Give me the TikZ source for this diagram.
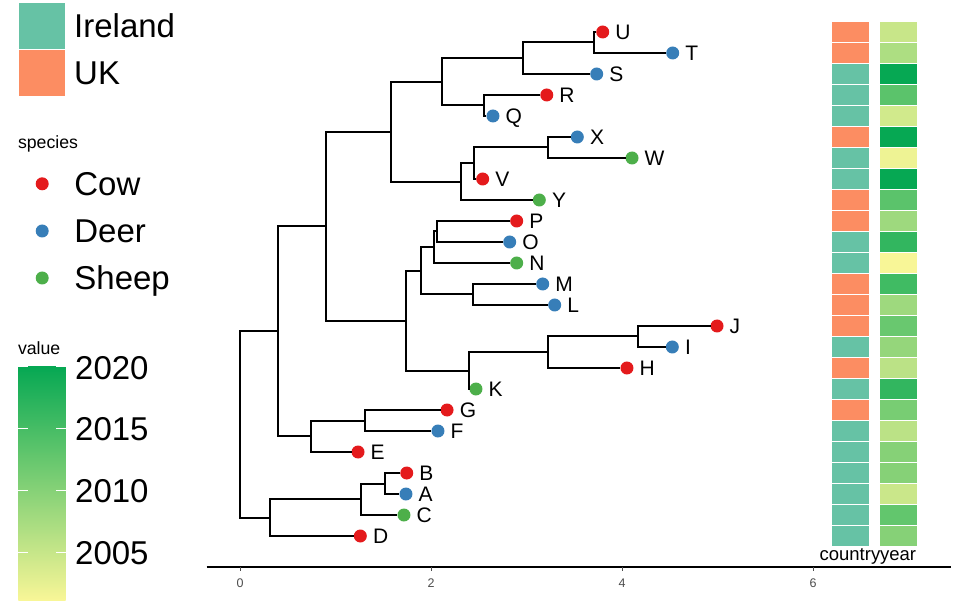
\documentclass[tikz,border=0pt]{standalone}
\usepackage{fontspec}
\setmainfont{Liberation Sans}
\usetikzlibrary{positioning}
\definecolor{cowred}{HTML}{E41A1C}
\definecolor{deerblue}{HTML}{377EB8}
\definecolor{sheepgreen}{HTML}{4DAF4A}
\definecolor{ireland}{HTML}{66C2A5}
\definecolor{uk}{HTML}{FC8D62}
\definecolor{yrlo}{HTML}{F8F697}
\definecolor{yrhi}{HTML}{06A853}
\definecolor{axisgray}{HTML}{4D4D4D}
\tikzset{
  treeline/.style={black, line width=2pt},
  tipdot/.style={circle, inner sep=0pt, outer sep=0pt, minimum size=13pt},
  cow/.style={tipdot, fill=cowred},
  deer/.style={tipdot, fill=deerblue},
  sheep/.style={tipdot, fill=sheepgreen},
  tiplab/.style={inner sep=0pt, font=\fontsize{21}{25}\selectfont, text height=15pt, text depth=0pt},
  cell/.style={draw=white, line width=0.6pt, inner sep=0pt, outer sep=0pt, minimum width=38pt, minimum height=21pt},
  yearcell/.style={cell, fill=yrhi!#1!yrlo},
  legkey/.style={draw=white, line width=0.6pt, inner sep=0pt, minimum width=47pt, minimum height=46.7pt},
  leglab/.style={inner sep=0pt, anchor=west, font=\fontsize{33}{38}\selectfont, text height=23.6pt, text depth=0pt},
  legtitle/.style={inner sep=0pt, anchor=base west, font=\fontsize{17.7}{21}\selectfont},
  cbtick/.style={white, line width=0.6pt},
  coltitle/.style={inner sep=0pt, anchor=base, font=\fontsize{18.5}{22}\selectfont},
  ticklab/.style={inner sep=0pt, text=axisgray, font=\fontsize{12.5}{15}\selectfont},
  axistick/.style={axisgray, line width=0.9pt}
}
\begin{document}
\begin{tikzpicture}[x=1pt, y=1pt]
\useasboundingbox (0,0) rectangle (960,600);
% country legend
\node[legkey, fill=ireland] (kIreland) at (41.7,574.5) {};
\node[legkey, fill=uk] (kUK) at (41.7,527.5) {};
\node[leglab, right=8.5pt of kIreland] (lIreland) {Ireland};
\node[leglab, right=8.5pt of kUK] (lUK) {UK};
% species legend
\node[legtitle] (tSpecies) at (17.8,451) {species};
\node[cow] (kCow) at (42.2,416.2) {};
\node[deer] (kDeer) at (42.2,369) {};
\node[sheep] (kSheep) at (42.2,322) {};
\node[leglab, right=25.5pt of kCow] (lCow) {Cow};
\node[leglab, right=25.5pt of kDeer] (lDeer) {Deer};
\node[leglab, right=25.5pt of kSheep] (lSheep) {Sheep};
% year colour bar
\node[legtitle] (tValue) at (17.8,245) {value};
\shade[bottom color=yrlo, top color=yrhi] (18.3,0) rectangle (65.7,233.3);
\draw[cbtick] (18.3,233.3) -- ++(9.3,0) (65.7,233.3) -- ++(-9.3,0);
\draw[cbtick] (18.3,172) -- ++(9.3,0) (65.7,172) -- ++(-9.3,0);
\draw[cbtick] (18.3,109.7) -- ++(9.3,0) (65.7,109.7) -- ++(-9.3,0);
\draw[cbtick] (18.3,47.7) -- ++(9.3,0) (65.7,47.7) -- ++(-9.3,0);
\node[leglab] (l2020) at (75,232.3) {2020};
\node[leglab] (l2015) at (75,171.2) {2015};
\node[leglab] (l2010) at (75,109) {2010};
\node[leglab] (l2005) at (75,47) {2005};

\begin{scope}[shift={(240pt,43pt)}, x=95.5pt, y=21pt]
% tips
\node[cow] (U) at (3.798,25) {};
\node[deer] (T) at (4.531,24) {};
\node[deer] (S) at (3.735,23) {};
\node[cow] (R) at (3.212,22) {};
\node[deer] (Q) at (2.649,21) {};
\node[deer] (X) at (3.532,20) {};
\node[sheep] (W) at (4.105,19) {};
\node[cow] (V) at (2.541,18) {};
\node[sheep] (Y) at (3.134,17) {};
\node[cow] (P) at (2.897,16) {};
\node[deer] (O) at (2.824,15) {};
\node[sheep] (N) at (2.897,14) {};
\node[deer] (M) at (3.170,13) {};
\node[deer] (L) at (3.295,12) {};
\node[cow] (J) at (4.995,11) {};
\node[deer] (I) at (4.527,10) {};
\node[cow] (H) at (4.052,9) {};
\node[sheep] (K) at (2.471,8) {};
\node[cow] (G) at (2.168,7) {};
\node[deer] (F) at (2.073,6) {};
\node[cow] (E) at (1.236,5) {};
\node[cow] (B) at (1.746,4) {};
\node[deer] (A) at (1.738,3) {};
\node[sheep] (C) at (1.717,2) {};
\node[cow] (D) at (1.260,1) {};
\node[tiplab, right=6pt of U] (lU) {U};
\node[tiplab, right=6pt of T] (lT) {T};
\node[tiplab, right=6pt of S] (lS) {S};
\node[tiplab, right=6pt of R] (lR) {R};
\node[tiplab, right=6pt of Q] (lQ) {Q};
\node[tiplab, right=6pt of X] (lX) {X};
\node[tiplab, right=6pt of W] (lW) {W};
\node[tiplab, right=6pt of V] (lV) {V};
\node[tiplab, right=6pt of Y] (lY) {Y};
\node[tiplab, right=6pt of P] (lP) {P};
\node[tiplab, right=6pt of O] (lO) {O};
\node[tiplab, right=6pt of N] (lN) {N};
\node[tiplab, right=6pt of M] (lM) {M};
\node[tiplab, right=6pt of L] (lL) {L};
\node[tiplab, right=6pt of J] (lJ) {J};
\node[tiplab, right=6pt of I] (lI) {I};
\node[tiplab, right=6pt of H] (lH) {H};
\node[tiplab, right=6pt of K] (lK) {K};
\node[tiplab, right=6pt of G] (lG) {G};
\node[tiplab, right=6pt of F] (lF) {F};
\node[tiplab, right=6pt of E] (lE) {E};
\node[tiplab, right=6pt of B] (lB) {B};
\node[tiplab, right=6pt of A] (lA) {A};
\node[tiplab, right=6pt of C] (lC) {C};
\node[tiplab, right=6pt of D] (lD) {D};
% inner nodes
\coordinate (nUT) at (3.707,24.5);
\coordinate (nUTS) at (2.963,23.75);
\coordinate (nRQ) at (2.560,21.5);
\coordinate (nUQ) at (2.112,22.625);
\coordinate (nXW) at (3.228,19.5);
\coordinate (nXV) at (2.453,18.75);
\coordinate (nXY) at (2.314,17.875);
\coordinate (nUY) at (1.578,20.25);
\coordinate (nPO) at (2.060,15.5);
\coordinate (nPN) at (2.035,14.75);
\coordinate (nML) at (2.437,12.5);
\coordinate (nPL) at (1.892,13.625);
\coordinate (nJI) at (4.171,10.5);
\coordinate (nJH) at (3.222,9.75);
\coordinate (nJK) at (2.401,8.875);
\coordinate (nPK) at (1.741,11.25);
\coordinate (nUK) at (0.901,15.75);
\coordinate (nFG) at (1.306,6.5);
\coordinate (nGE) at (0.743,5.75);
\coordinate (nUE) at (0.401,10.75);
\coordinate (nBA) at (1.518,3.5);
\coordinate (nBC) at (1.264,2.75);
\coordinate (nBD) at (0.314,1.875);
\coordinate (root) at (0,6.3125);
% branches
\draw[treeline] (nUE) -| (root) |- (nBD);
\draw[treeline] (nUK) -| (nUE) |- (nGE);
\draw[treeline] (nUY) -| (nUK) |- (nPK);
\draw[treeline] (nUQ) -| (nUY) |- (nXY);
\draw[treeline] (nUTS) -| (nUQ) |- (nRQ);
\draw[treeline] (nUT) -| (nUTS) |- (S);
\draw[treeline] (U) -| (nUT) |- (T);
\draw[treeline] (R) -| (nRQ) |- (Q);
\draw[treeline] (nXV) -| (nXY) |- (Y);
\draw[treeline] (nXW) -| (nXV) |- (V);
\draw[treeline] (X) -| (nXW) |- (W);
\draw[treeline] (nPL) -| (nPK) |- (nJK);
\draw[treeline] (nPN) -| (nPL) |- (nML);
\draw[treeline] (nPO) -| (nPN) |- (N);
\draw[treeline] (P) -| (nPO) |- (O);
\draw[treeline] (M) -| (nML) |- (L);
\draw[treeline] (nJH) -| (nJK) |- (K);
\draw[treeline] (nJI) -| (nJH) |- (H);
\draw[treeline] (J) -| (nJI) |- (I);
\draw[treeline] (nFG) -| (nGE) |- (E);
\draw[treeline] (G) -| (nFG) |- (F);
\draw[treeline] (nBC) -| (nBD) |- (D);
\draw[treeline] (nBA) -| (nBC) |- (C);
\draw[treeline] (B) -| (nBA) |- (A);
% heatmap
\node[cell, fill=uk] (cU) at (6.387,25) {}; \node[yearcell=20, right=10pt of cU] (yU) {};
\node[cell, fill=uk] (cT) at (6.387,24) {}; \node[yearcell=31, right=10pt of cT] (yT) {};
\node[cell, fill=ireland] (cS) at (6.387,23) {}; \node[yearcell=100, right=10pt of cS] (yS) {};
\node[cell, fill=ireland] (cR) at (6.387,22) {}; \node[yearcell=65, right=10pt of cR] (yR) {};
\node[cell, fill=ireland] (cQ) at (6.387,21) {}; \node[yearcell=16, right=10pt of cQ] (yQ) {};
\node[cell, fill=uk] (cX) at (6.387,20) {}; \node[yearcell=100, right=10pt of cX] (yX) {};
\node[cell, fill=ireland] (cW) at (6.387,19) {}; \node[yearcell=4, right=10pt of cW] (yW) {};
\node[cell, fill=ireland] (cV) at (6.387,18) {}; \node[yearcell=100, right=10pt of cV] (yV) {};
\node[cell, fill=uk] (cY) at (6.387,17) {}; \node[yearcell=65, right=10pt of cY] (yY) {};
\node[cell, fill=uk] (cP) at (6.387,16) {}; \node[yearcell=37, right=10pt of cP] (yP) {};
\node[cell, fill=ireland] (cO) at (6.387,15) {}; \node[yearcell=82, right=10pt of cO] (yO) {};
\node[cell, fill=ireland] (cN) at (6.387,14) {}; \node[yearcell=0, right=10pt of cN] (yN) {};
\node[cell, fill=uk] (cM) at (6.387,13) {}; \node[yearcell=76, right=10pt of cM] (yM) {};
\node[cell, fill=uk] (cL) at (6.387,12) {}; \node[yearcell=37, right=10pt of cL] (yL) {};
\node[cell, fill=uk] (cJ) at (6.387,11) {}; \node[yearcell=59, right=10pt of cJ] (yJ) {};
\node[cell, fill=ireland] (cI) at (6.387,10) {}; \node[yearcell=41, right=10pt of cI] (yI) {};
\node[cell, fill=uk] (cH) at (6.387,9) {}; \node[yearcell=25, right=10pt of cH] (yH) {};
\node[cell, fill=ireland] (cK) at (6.387,8) {}; \node[yearcell=82, right=10pt of cK] (yK) {};
\node[cell, fill=uk] (cG) at (6.387,7) {}; \node[yearcell=53, right=10pt of cG] (yG) {};
\node[cell, fill=ireland] (cF) at (6.387,6) {}; \node[yearcell=25, right=10pt of cF] (yF) {};
\node[cell, fill=ireland] (cE) at (6.387,5) {}; \node[yearcell=47, right=10pt of cE] (yE) {};
\node[cell, fill=ireland] (cB) at (6.387,4) {}; \node[yearcell=47, right=10pt of cB] (yB) {};
\node[cell, fill=ireland] (cA) at (6.387,3) {}; \node[yearcell=19, right=10pt of cA] (yA) {};
\node[cell, fill=ireland] (cC) at (6.387,2) {}; \node[yearcell=62, right=10pt of cC] (yC) {};
\node[cell, fill=ireland] (cD) at (6.387,1) {}; \node[yearcell=47, right=10pt of cD] (yD) {};
\node[coltitle] (tCountry) at (6.387,-0.19) {country};
\node[coltitle] (tYear) at (6.890,-0.19) {year};
% axis
\draw[black, line width=1.5pt] (-0.349,-0.476) -- (7.442,-0.476);
\draw[axistick] (0,-0.476) -- ++(0,-4.5pt);
\draw[axistick] (2,-0.476) -- ++(0,-4.5pt);
\draw[axistick] (4,-0.476) -- ++(0,-4.5pt);
\draw[axistick] (6,-0.476) -- ++(0,-4.5pt);
\node[ticklab] (x0) at (0,-1.229) {0};
\node[ticklab] (x2) at (2,-1.229) {2};
\node[ticklab] (x4) at (4,-1.229) {4};
\node[ticklab] (x6) at (6,-1.229) {6};
\end{scope}
\end{tikzpicture}
\end{document}
